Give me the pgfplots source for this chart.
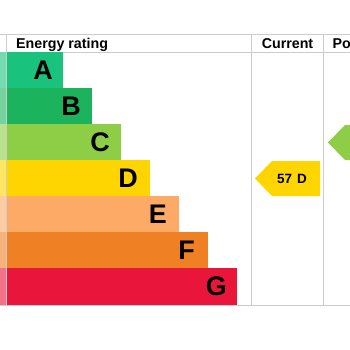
\documentclass[border=0pt]{standalone}
\usepackage{pgfplots}
\pgfplotsset{compat=1.18}
\usepackage{fontspec}
\setmainfont{Liberation Sans}
\definecolor{cA}{RGB}{26,195,125}
\definecolor{cB}{RGB}{28,179,93}
\definecolor{cC}{RGB}{141,206,70}
\definecolor{cD}{RGB}{255,213,0}
\definecolor{cE}{RGB}{252,170,101}
\definecolor{cF}{RGB}{239,128,35}
\definecolor{cG}{RGB}{233,21,59}
\definecolor{grid}{RGB}{204,204,204}
\begin{document}
\begin{tikzpicture}
\begin{axis}[width=350bp, height=350bp, scale only axis,
  xmin=0, xmax=350, ymin=0, ymax=350, y dir=reverse,
  hide axis, clip=true,
  gl/.style={draw=grid, line width=0.9bp, forget plot}]
% background
\addplot[draw=none, fill=white, forget plot] coordinates {(0,0) (350,0) (350,350) (0,350)} -- cycle;
% grid lines
\addplot[gl] coordinates {(0,34) (350,34)};
\addplot[gl] coordinates {(0,52) (350,52)};
\addplot[gl] coordinates {(0,305.5) (350,305.5)};
\addplot[gl] coordinates {(251.5,34) (251.5,305.5)};
\addplot[gl] coordinates {(323,34) (323,305.5)};
% bars
\addplot[fill=cA, draw=none] coordinates {(0,52) (63,52) (63,88) (0,88)} -- cycle;
\addplot[fill=cB, draw=none] coordinates {(0,88) (92,88) (92,124) (0,124)} -- cycle;
\addplot[fill=cC, draw=none] coordinates {(0,124) (121,124) (121,160) (0,160)} -- cycle;
\addplot[fill=cD, draw=none] coordinates {(0,160) (150,160) (150,196) (0,196)} -- cycle;
\addplot[fill=cE, draw=none] coordinates {(0,196) (179,196) (179,232) (0,232)} -- cycle;
\addplot[fill=cF, draw=none] coordinates {(0,232) (208,232) (208,268) (0,268)} -- cycle;
\addplot[fill=cG, draw=none] coordinates {(0,268) (237,268) (237,304.5) (0,304.5)} -- cycle;
% faded left strip
\addplot[fill=white, fill opacity=0.4, draw=none] coordinates {(0,52) (6.5,52) (6.5,304.5) (0,304.5)} -- cycle;
\addplot[gl] coordinates {(6.5,34) (6.5,304.5)};
% letters
\addplot[only marks, mark=none, nodes near coords, point meta=explicit symbolic,
  nodes near coords style={anchor=east, inner sep=0pt, text=black,
  font=\bfseries\fontsize{27}{27}\selectfont}]
  table[meta=l] {
x y l
53 70 A
81 106 B
110 142 C
138 178 D
167 214 E
195 250 F
227 286.5 G
};
% current arrow (57 D)
\addplot[fill=cD, draw=none] coordinates {(255,178.5) (272,161) (320,161) (320,196) (272,196)} -- cycle;
% potential arrow (C)
\addplot[fill=cC, draw=none] coordinates {(328,142.5) (345,125) (420,125) (420,160) (345,160)} -- cycle;
\addplot[only marks, mark=none, nodes near coords, point meta=explicit symbolic,
  nodes near coords style={anchor=center, inner sep=0pt, text=black,
  font=\bfseries\fontsize{13.5}{14}\selectfont}]
  table[meta=l] {
x y l
292 178.5 {57\hspace{5bp}D}
};
% headers
\node[anchor=base west, inner sep=0pt, font=\bfseries\fontsize{14.3}{15}\selectfont] at (axis cs:16,48.5) {Energy rating};
\node[anchor=base, inner sep=0pt, font=\bfseries\fontsize{14.3}{15}\selectfont] at (axis cs:287.5,48.5) {Current};
\node[anchor=base west, inner sep=0pt, font=\bfseries\fontsize{14.3}{15}\selectfont] at (axis cs:332.5,48.5) {Potential};
\end{axis}
\pgfresetboundingbox
\path (current axis.south west) rectangle (current axis.north east);
\end{tikzpicture}
\end{document}
